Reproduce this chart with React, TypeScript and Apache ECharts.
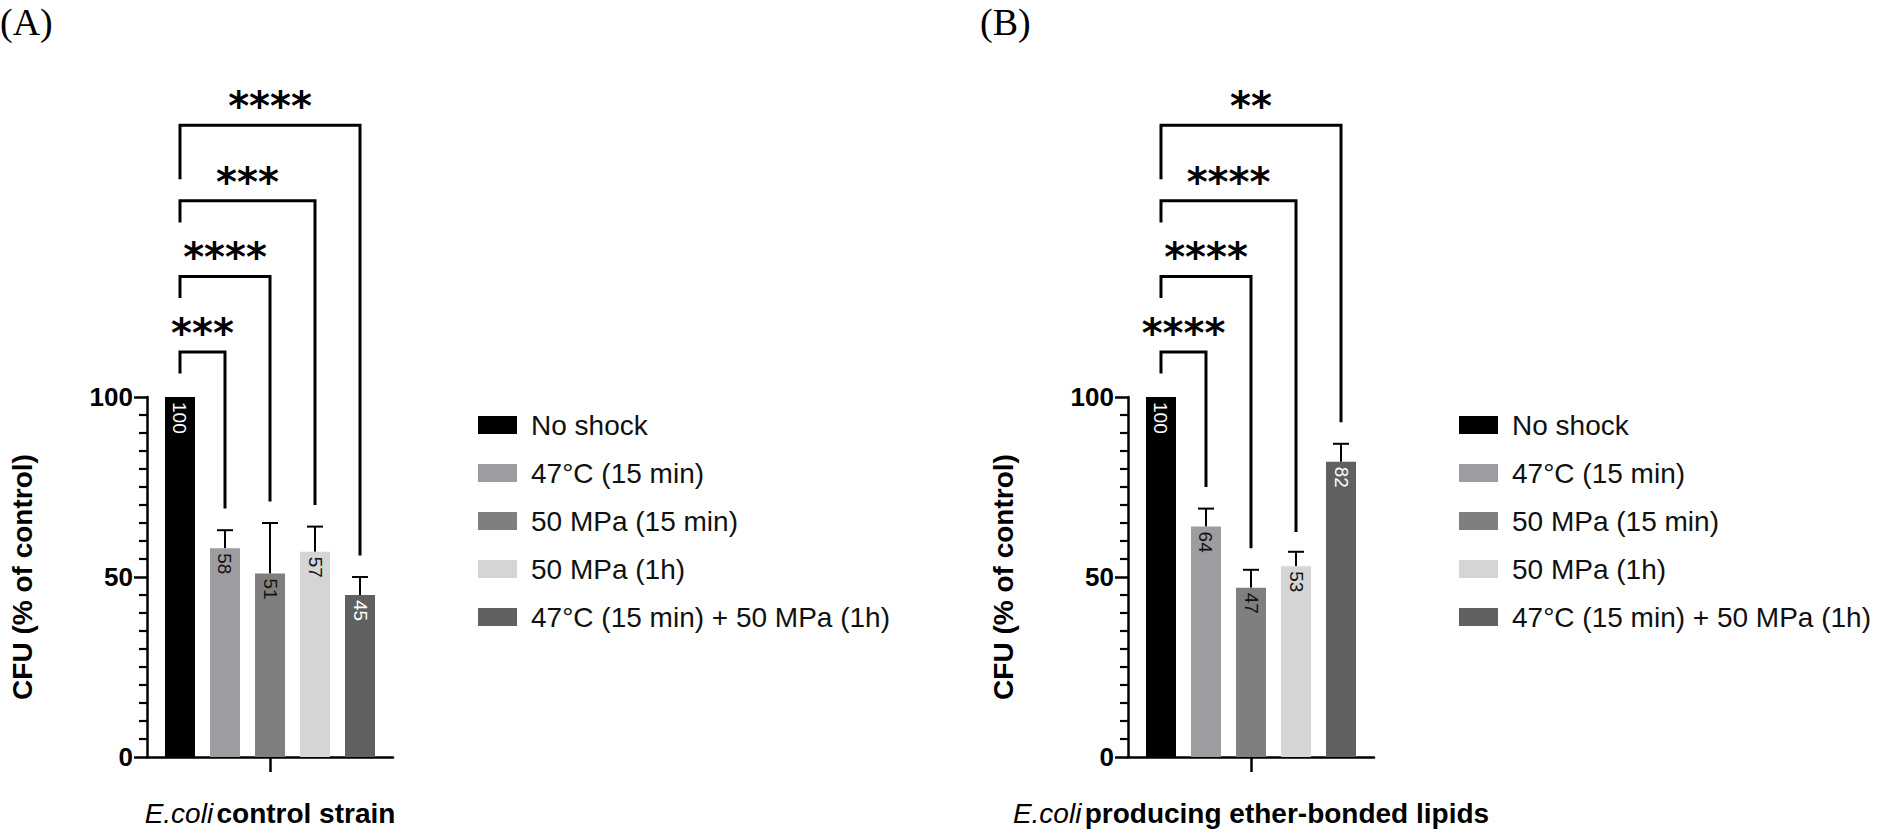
import React, { useEffect, useRef } from "react";
import * as echarts from "echarts";

const seriesNames = [
  "No shock",
  "47°C (15 min)",
  "50 MPa (15 min)",
  "50 MPa (1h)",
  "47°C (15 min) + 50 MPa (1h)",
];
const barColors = ["#000000", "#9d9da1", "#7f7f7f", "#d5d5d5", "#606060"];
const labelColors = ["#ffffff", "#111111", "#111111", "#111111", "#ffffff"];
const barPositions = [0, 1, 2, 3, 4];

const valuesA = [100, 58, 51, 57, 45];
const errorTopA = [null, 63, 65, 64, 50];
const valuesB = [100, 64, 47, 53, 82];
const errorTopB = [null, 69, 52, 57, 87];

const bracketTargets = [1, 2, 3, 4];
const bracketLevels = [112.5, 133.5, 154.5, 175.5];
const bracketLeftEnds = [106.5, 127.5, 148.5, 160.5];
const bracketRightEndsA = [69, 71, 70, 56];
const bracketRightEndsB = [75, 58, 62.5, 93];
const starsA = ["***", "****", "***", "****"];
const starsB = ["****", "****", "****", "**"];

const groupLabelA = ["E.coli", "control strain"];
const groupLabelB = ["E.coli", "producing ether-bonded lipids"];
const panelTitles = ["(A)", "(B)"];
const yAxisTitle = "CFU (% of control)";

const SANS = "'Liberation Sans', Arial, Helvetica, sans-serif";

function buildPanel(
  idx: number,
  left: number,
  values: number[],
  errTops: (number | null)[],
  rightEnds: number[],
  stars: string[],
  groupLabel: string[]
) {
  const grid = { left, top: 397, width: 246, height: 360, containLabel: false };
  const xAxes = [
    {
      gridIndex: idx,
      type: "category",
      position: "bottom",
      data: [groupLabel.join(" ")],
      axisLine: { show: true, onZero: false, lineStyle: { color: "#000", width: 2.5 } },
      axisTick: { show: true, alignWithLabel: true, length: 15, lineStyle: { color: "#000", width: 2.5 } },
      axisLabel: {
        margin: 42,
        formatter: () => `{i|${groupLabel[0]}} {b|${groupLabel[1]}}`,
        rich: {
          i: { fontStyle: "italic", fontSize: 28, fontFamily: SANS, color: "#000" },
          b: { fontWeight: "bold", fontSize: 28, fontFamily: SANS, color: "#000" },
        },
      },
      splitLine: { show: false },
    },
    {
      gridIndex: idx,
      type: "value",
      position: "bottom",
      min: -0.733,
      max: 4.733,
      show: false,
      axisLine: { onZero: false },
      splitLine: { show: false },
    },
  ];
  const yAxis = {
    gridIndex: idx,
    type: "value",
    min: 0,
    max: 100,
    interval: 50,
    name: yAxisTitle,
    nameLocation: "middle",
    nameGap: 111,
    nameTextStyle: { fontSize: 28, fontWeight: "bold", fontFamily: SANS, color: "#000" },
    axisLine: { show: true, onZero: false, lineStyle: { color: "#000", width: 2.5 } },
    axisTick: { show: true, length: 13, lineStyle: { color: "#000", width: 2.5 } },
    minorTick: { show: true, splitNumber: 10, length: 8, lineStyle: { color: "#000", width: 2.2 } },
    splitLine: { show: false },
    minorSplitLine: { show: false },
    axisLabel: { fontSize: 26, fontWeight: "bold", fontFamily: SANS, color: "#000", margin: 14 },
  };
  const xValueAxisIndex = idx * 2 + 1;
  const bars = seriesNames.map((name, i) => ({
    name,
    type: "bar",
    xAxisIndex: xValueAxisIndex,
    yAxisIndex: idx,
    barWidth: 30,
    barGap: "-100%",
    itemStyle: { color: barColors[i] },
    data: [[barPositions[i], values[i]]],
    label: {
      show: true,
      position: "insideTop",
      distance: 5,
      rotate: -90,
      align: "left",
      verticalAlign: "middle",
      fontSize: 19,
      fontFamily: SANS,
      color: labelColors[i],
      formatter: (p: any) => String(p.value[1]),
    },
  }));
  const errData = barPositions
    .map((x, i) => (errTops[i] == null ? null : [x, values[i], errTops[i]]))
    .filter((d) => d !== null);
  const errorSeries = {
    type: "custom",
    xAxisIndex: xValueAxisIndex,
    yAxisIndex: idx,
    silent: true,
    data: errData,
    renderItem: (_p: any, api: any) => {
      const x = api.value(0);
      const p0 = api.coord([x, api.value(1)]);
      const p1 = api.coord([x, api.value(2)]);
      return {
        type: "group",
        children: [
          { type: "line", shape: { x1: p0[0], y1: p0[1], x2: p1[0], y2: p1[1] }, style: { stroke: "#000", lineWidth: 2 } },
          { type: "line", shape: { x1: p1[0] - 8, y1: p1[1], x2: p1[0] + 8, y2: p1[1] }, style: { stroke: "#000", lineWidth: 2 } },
        ],
      };
    },
  };
  const bracketData = bracketTargets.map((t, k) => [0, t, bracketLevels[k], bracketLeftEnds[k], rightEnds[k]]);
  const bracketSeries = {
    type: "custom",
    xAxisIndex: xValueAxisIndex,
    yAxisIndex: idx,
    silent: true,
    clip: false,
    data: bracketData,
    renderItem: (p: any, api: any) => {
      const x1 = api.value(0);
      const x2 = api.value(1);
      const top = api.value(2);
      const pL = api.coord([x1, api.value(3)]);
      const pT1 = api.coord([x1, top]);
      const pT2 = api.coord([x2, top]);
      const pR = api.coord([x2, api.value(4)]);
      const mid = api.coord([(x1 + x2) / 2, top]);
      return {
        type: "group",
        children: [
          {
            type: "polyline",
            shape: { points: [pL, pT1, pT2, pR] },
            style: { stroke: "#000", lineWidth: 3, fill: null },
          },
          {
            type: "text",
            x: mid[0],
            y: mid[1] + 1,
            style: {
              text: stars[p.dataIndex],
              fontSize: 40,
              fontWeight: "bold",
              fontFamily: "'DejaVu Sans', sans-serif",
              fill: "#000",
              align: "center",
              verticalAlign: "bottom",
            },
          },
        ],
      };
    },
  };
  const legend = {
    orient: "vertical",
    left: left + 326,
    top: 406,
    itemWidth: 39,
    itemHeight: 18,
    itemGap: 20,
    icon: "rect",
    selectedMode: false,
    data: seriesNames,
    textStyle: { fontSize: 28, lineHeight: 28, fontFamily: SANS, color: "#111", padding: [0, 0, 0, 9] },
  };
  return { grid, xAxes, yAxis, series: [...bars, errorSeries, bracketSeries], legend };
}

export default function App() {
  const ref = useRef<HTMLDivElement>(null);
  useEffect(() => {
    document.body.style.margin = "0";
    if (!ref.current) return;
    const chart = echarts.init(ref.current, undefined, { renderer: "svg" });
    const a = buildPanel(0, 147, valuesA, errorTopA, bracketRightEndsA, starsA, groupLabelA);
    const b = buildPanel(1, 1128, valuesB, errorTopB, bracketRightEndsB, starsB, groupLabelB);
    chart.setOption({
      animation: false,
      backgroundColor: "#ffffff",
      grid: [a.grid, b.grid],
      xAxis: [...a.xAxes, ...b.xAxes],
      yAxis: [a.yAxis, b.yAxis],
      legend: [a.legend, b.legend],
      series: [...a.series, ...b.series],
      graphic: [
        {
          type: "text",
          left: 0,
          top: 3,
          style: { text: panelTitles[0], fontSize: 38, fontFamily: "'Liberation Serif', 'Times New Roman', serif", fill: "#000" },
        },
        {
          type: "text",
          left: 980,
          top: 3,
          style: { text: panelTitles[1], fontSize: 38, fontFamily: "'Liberation Serif', 'Times New Roman', serif", fill: "#000" },
        },
      ],
    });
    return () => chart.dispose();
  }, []);
  return <div ref={ref} style={{ width: 1902, height: 832 }} />;
}
